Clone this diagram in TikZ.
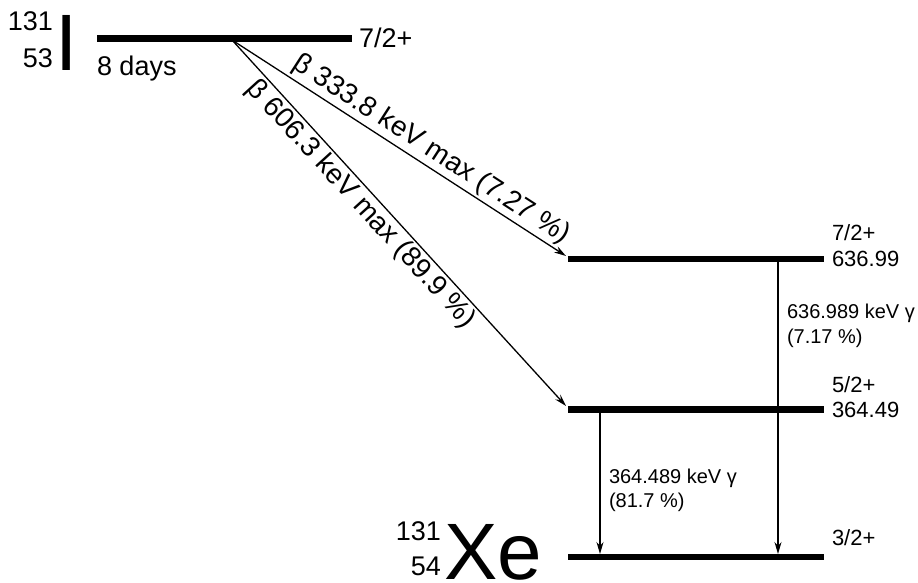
\documentclass[tikz,border=0pt]{standalone}
\usepackage{fontspec}
\setmainfont{Liberation Sans}
\usetikzlibrary{arrows.meta}
\newcommand{\fsz}[1]{\fontsize{#1}{#1}\selectfont}
\begin{document}
\begin{tikzpicture}[x=1pt,y=-1pt,
  level/.style={line width=6.5pt},
  decay/.style={line width=1.3pt,-{Stealth[length=12pt,width=7pt]}},
  txt/.style={inner sep=0pt,outer sep=0pt},
  big/.style={txt,font=\fsz{27}},
  mid/.style={txt,font=\fsz{22}},
  small/.style={txt,font=\fsz{20}},
  huge/.style={txt,font=\fsz{80}},
  blab/.style={txt,font=\fsz{28},sloped,inner sep=3pt}]
\useasboundingbox (0,0) rectangle (918,582);
% parent I-131
\node[huge,anchor=base] (I) at (67,70) {I};
\node[big,anchor=base east] (Ia) at (53,30) {131};
\node[big,anchor=base east] (Iz) at (53,67) {53};
\coordinate (t0) at (97,38.5);
\coordinate (t1) at (352,38.5);
\draw[level] (t0) -- (t1);
\node[big,anchor=base west] (tspin) at (359,47) {7/2+};
\node[big,anchor=base west] (thalf) at (97,75) {8 days};
% levels
\coordinate (a0) at (568,259);
\coordinate (a1) at (824,259);
\draw[level] (a0) -- (a1);
\node[mid,anchor=base west] (aspin) at (832,240) {7/2+};
\node[mid,anchor=base west] (aen) at (832,266) {636.99};
\coordinate (b0) at (568,409.5);
\coordinate (b1) at (824,409.5);
\draw[level] (b0) -- (b1);
\node[mid,anchor=base west] (bspin) at (832,392) {5/2+};
\node[mid,anchor=base west] (ben) at (832,417) {364.49};
\coordinate (g0) at (568,557);
\coordinate (g1) at (824,557);
\draw[level] (g0) -- (g1);
\node[mid,anchor=base west] (gspin) at (832,545) {3/2+};
% daughter Xe-131
\node[huge,anchor=base west] (Xe) at (444,579) {Xe};
\node[big,anchor=base east] (Xa) at (441,540) {131};
\node[big,anchor=base east] (Xz) at (441,575) {54};
% beta decays
\coordinate (bs) at (232,40);
\coordinate (be1) at (566,256);
\coordinate (be2) at (566,406);
\draw[decay] (bs) -- node[blab,above,pos=0.57] {β 333.8 keV max (7.27 \%)} (be1);
\draw[decay] (bs) -- node[blab,below,pos=0.42] {β 606.3 keV max (89.9 \%)} (be2);
% gamma transitions
\coordinate (ga) at (778,259);
\coordinate (gae) at (778,554);
\coordinate (gb) at (600,409.5);
\coordinate (gbe) at (600,554);
\draw[decay] (ga) -- (gae);
\draw[decay] (gb) -- (gbe);
\node[small,anchor=base west] (gal1) at (787,318) {636.989 keV γ};
\node[small,anchor=base west] (gal2) at (787,343) {(7.17 \%)};
\node[small,anchor=base west] (gbl1) at (609,483) {364.489 keV γ};
\node[small,anchor=base west] (gbl2) at (609,507) {(81.7 \%)};
\end{tikzpicture}
\end{document}
